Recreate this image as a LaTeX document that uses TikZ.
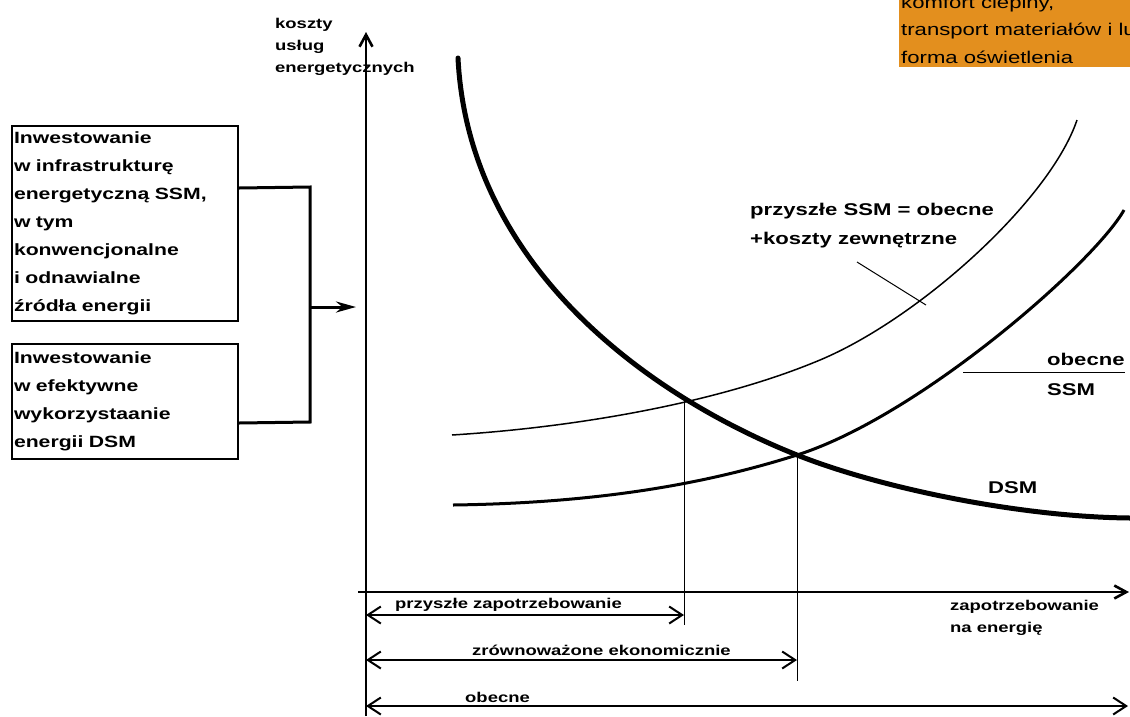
\documentclass[tikz,border=0pt]{standalone}
\usepackage{fontspec}
\setmainfont{Liberation Sans}[FakeStretch=1.3]
\usetikzlibrary{arrows.meta}
\definecolor{notebg}{RGB}{227,143,30}

\begin{document}
\begin{tikzpicture}[x=1pt,y=-1pt,
  inv box/.style={draw,line width=2pt,anchor=north west,inner xsep=2pt,inner ysep=0pt,
    text width=222pt,align=left,font=\bfseries\fontsize{16.3}{28}\selectfont},
  small label/.style={anchor=base west,inner sep=0pt,align=left,font=\bfseries\fontsize{14.2}{22}\selectfont},
  big label/.style={anchor=base west,inner sep=0pt,align=left,font=\bfseries\fontsize{17}{29}\selectfont},
  span arrow/.style={line width=2pt,{Straight Barb[length=13pt,width=17pt]}-{Straight Barb[length=13pt,width=17pt]}},
  drop/.style={line width=1pt}]
  \useasboundingbox (0,0) rectangle (1130,716);

  % note in the corner
  \fill[notebg] (899,0) rectangle (1130,67);
  \begin{scope}
    \clip (899,0) rectangle (1130,67);
    \node[anchor=base west,inner sep=0pt,align=left,font=\fontsize{17}{27.5}\selectfont] (note) at (901,63)
      {komfort cieplny,\\transport materiałów i lu\\forma oświetlenia};
  \end{scope}

  % investment boxes
  \node[inv box,minimum height=195pt] (box1) at (11,125)
    {Inwestowanie\\w infrastrukturę\\energetyczną SSM,\\w tym\\konwencjonalne\\i odnawialne\\źródła energii};
  \node[inv box,minimum height=115pt] (box2) at (11,343)
    {Inwestowanie\\w efektywne\\wykorzystaanie\\energii DSM};
  \coordinate (jt) at (310,187);
  \coordinate (jb) at (310,422);
  \coordinate (jm) at (310,307);
  \coordinate (jtip) at (356,307);
  \draw[line width=3pt] ([yshift=35.5pt]box1.east) -- (jt) -- (jb) -- ([yshift=-21.5pt]box2.east);
  \draw[line width=3pt,-{Stealth[length=20pt,width=11pt]}] (jm) -- (jtip);

  % axes
  \coordinate (O) at (366,592);
  \coordinate (ybot) at (366,716);
  \coordinate (ytop) at (366,32);
  \coordinate (xl) at (358,592);
  \coordinate (xr) at (1129,592);
  \node[small label] (ylab) at (275,72) {koszty\\usług\\energetycznych};
  \draw[line width=2.6pt,-{Straight Barb[length=12pt,width=13pt]}] (ybot) -- (ytop);
  \draw[line width=2.6pt,-{Straight Barb[length=12pt,width=13pt]}] (xl) -- (xr);
  \node[small label] (xlab) at (950,632) {zapotrzebowanie\\na energię};

  % curves
  \coordinate (fut) at (684,400);
  \coordinate (now) at (797,455);
  \draw[line width=5pt,line cap=round] (458,58) .. controls (468,260) and (639,392) .. (now)
    .. controls (880,488) and (1020,517) .. (1130,518);
  \draw[line width=3pt] (453,505) .. controls (600,503) and (707,483.5) .. (now)
    .. controls (920,416) and (1095,262) .. (1124,210);
  \draw[line width=1.5pt] (452,435) .. controls (580,427) and (720,402) .. (820,360)
    .. controls (920,318) and (1050,200) .. (1077,120);

  % labels of the curves
  \node[big label] (futlab) at (750,244) {przyszłe SSM = obecne\\+koszty zewnętrzne};
  \coordinate (lead) at (857,262);
  \coordinate (futpt) at (926,305);
  \draw[drop] (lead) -- (futpt);
  \node[big label] (nowlab) at (1047,365) {obecne};
  \node[big label] (ssmlab) at (1047,395) {SSM};
  \draw[drop] (963,372) -- (1125,372);
  \node[big label] (dsmlab) at (988,493) {DSM};

  % drops and spans
  \draw[drop] (fut) -- (fut |- 0,625);
  \draw[drop] (now) -- (now |- 0,681);
  \draw[span arrow] (O |- 0,615) -- (fut |- 0,615);
  \draw[span arrow] (O |- 0,660) -- (now |- 0,660);
  \draw[span arrow] (O |- 0,706) -- (1128,706);
  \node[small label] (l1) at (395,608) {przyszłe zapotrzebowanie};
  \node[small label] (l2) at (472,655) {zrównoważone ekonomicznie};
  \node[small label] (l3) at (465,702) {obecne};
\end{tikzpicture}
\end{document}
